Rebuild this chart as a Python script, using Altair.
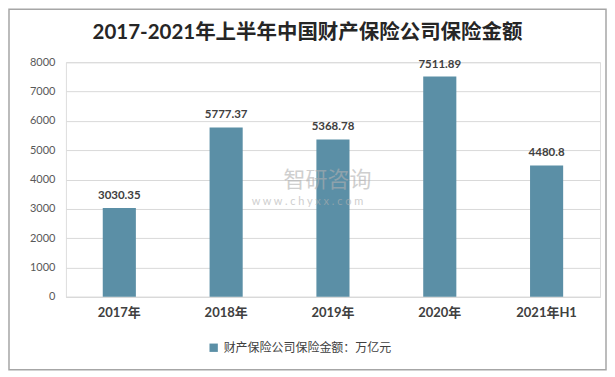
import altair as alt
import pandas as pd

years = ["2017年", "2018年", "2019年", "2020年", "2021年H1"]
values = [3030.35, 5777.37, 5368.78, 7511.89, 4480.8]
series_name = "财产保险公司保险金额：万亿元"
title_text = "2017-2021年上半年中国财产保险公司保险金额"
y_ticks = [0, 1000, 2000, 3000, 4000, 5000, 6000, 7000, 8000]

df = pd.DataFrame({"year": years, "value": values, "series": [series_name] * len(years)})
labels = [f"{v:g}" for v in values]
df["label"] = labels

FONT = "Lato, Noto Sans CJK SC, sans-serif"
BAR = "#5b8fa6"

base = alt.Chart(df)

x_enc = alt.X("year:N", sort=years, title=None,
              scale=alt.Scale(paddingInner=0.69, paddingOuter=0.345),
              axis=alt.Axis(labelFontWeight="bold", labelFontSize=13, labelColor="#404040",
                            labelPadding=10, ticks=False, domainColor="#d9d9d9", labelAngle=0,
                            labelFont=FONT))
y_enc = alt.Y("value:Q", title=None,
              scale=alt.Scale(domain=[0, 8000], nice=False),
              axis=alt.Axis(values=y_ticks, format="d", domain=False, ticks=False, labelColor="#595959",
                            labelFontSize=11, labelPadding=11, gridColor="#d9d9d9", labelFont=FONT,
                            labelOverlap=False))

bars = base.mark_bar(color=BAR).encode(
    x=x_enc,
    y=y_enc,
    color=alt.Color("series:N", scale=alt.Scale(range=[BAR]),
                    legend=alt.Legend(title=None, orient="none", legendX=142, legendY=280,
                                      symbolType="square", symbolSize=70, labelFontSize=12,
                                      labelLimit=0, labelColor="#404040", labelFont=FONT,
                                      symbolStrokeWidth=0)),
)

text = base.mark_text(dy=-7, baseline="bottom", fontWeight="bold", fontSize=11.5,
                      color="#404040", font=FONT).encode(
    x=x_enc,
    y=y_enc,
    text="label:N",
)

one = pd.DataFrame({"k": [1]})
border = alt.Chart(one).mark_rect(fill=None, stroke="#a6a6a6", strokeWidth=1.5).encode(
    x=alt.value(-57), x2=alt.value(541), y=alt.value(-53), y2=alt.value(308)
)
title = alt.Chart(one).mark_text(text=title_text, fontSize=20.5, fontWeight="bold", color="#262626",
                                 font=FONT, baseline="middle").encode(x=alt.value(242), y=alt.value(-29))
wm1 = alt.Chart(one).mark_text(text="智研咨询", fontSize=22, color="#b0b0b0", opacity=0.6,
                                font="Noto Sans CJK SC").encode(x=alt.value(262), y=alt.value(118))
wm2 = alt.Chart(one).mark_text(text="w w w . c h y x x . c o m", fontSize=11, color="#b0b0b0",
                                opacity=0.6, font=FONT).encode(x=alt.value(242), y=alt.value(140))

chart = alt.layer(bars, text, wm1, wm2, title, border).properties(
    width=535, height=235,
    autosize=alt.AutoSizeParams(type="none"),
    padding={"left": 58, "top": 54, "right": 7, "bottom": 74},
).configure_view(stroke=None).configure(background="white")

chart.save("out.html", embed_options={"renderer": "svg", "actions": False})
